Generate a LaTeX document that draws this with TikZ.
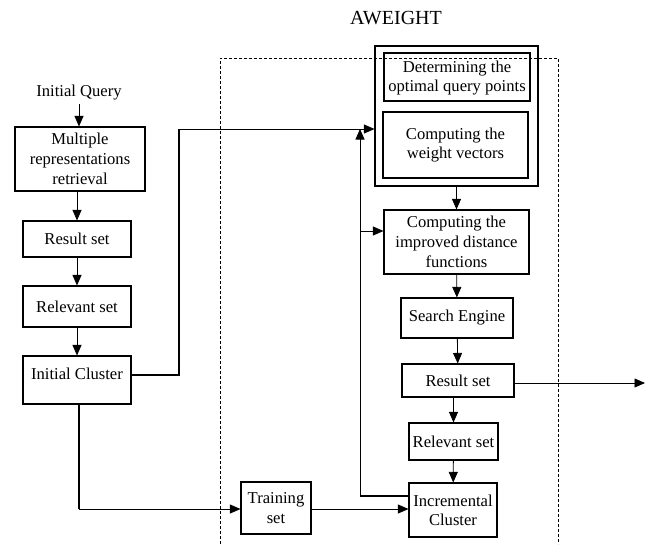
\documentclass[tikz,border=0pt]{standalone}
\usepackage{fontspec}
\setmainfont{Liberation Serif}
\usetikzlibrary{arrows.meta}

\begin{document}
\begin{tikzpicture}[x=1pt,y=-1pt,
    box/.style={draw,line width=1.1pt,align=center,inner sep=0pt,font=\fontsize{16.6}{20}\selectfont},
    arr/.style={-{Triangle[length=10.5pt,width=9pt]},line width=0.8pt}]
    \useasboundingbox (0,0) rectangle (647,544);
    % 虚线框
    \draw[line width=0.6pt,dash pattern=on 3pt off 2pt] (220,544) -- (220,58) -- (558,58) -- (558,544);
    \node[font=\fontsize{20}{24}\selectfont] (title) at (396,18) {AWEIGHT};
    % 左列
    \node[font=\fontsize{16.6}{20}\selectfont] (query) at (79,93) {Initial Query};
    \node[box,minimum width=130pt,minimum height=64pt] (mrr) at (80,159) {Multiple\\representations\\retrieval};
    \node[box,minimum width=108pt,minimum height=36pt] (res1) at (77,239) {Result set};
    \node[box,minimum width=108pt,minimum height=41pt] (rel1) at (77,306.5) {Relevant set};
    \node[box,minimum width=108pt,minimum height=48pt,text depth=12pt] (ic1) at (77,380) {Initial Cluster};
    \node[box,minimum width=70pt,minimum height=52pt] (train) at (276,508) {Training\\set};
    % 右列
    \node[box,minimum width=163pt,minimum height=140pt] (awbox) at (456.5,116) {};
    \node[box,minimum width=146pt,minimum height=48pt,font=\fontsize{16.6}{19}\selectfont] (dq) at (457,77) {\strut Determining the\\optimal query points};
    \node[box,minimum width=145pt,minimum height=66pt,font=\fontsize{16.6}{19}\selectfont] (cw) at (455.5,145) {Computing the\\weight vectors};
    \node[box,minimum width=145pt,minimum height=64pt] (dist) at (456.5,242) {Computing the\\improved distance\\functions};
    \node[box,minimum width=112pt,minimum height=40pt] (se) at (457,318) {Search Engine};
    \node[box,minimum width=112pt,minimum height=33pt] (res2) at (458,380.5) {Result set};
    \node[box,minimum width=89pt,minimum height=37pt] (rel2) at (453.5,441.5) {Relevant set};
    \node[box,minimum width=88pt,minimum height=54pt,font=\fontsize{16.6}{19}\selectfont] (inc) at (453,510) {Incremental\\Cluster};
    % 拐点
    \coordinate (kneeA) at (179,375);
    \coordinate (kneeB) at (179,129);
    \coordinate (kneeC) at (79,509);
    \coordinate (kneeD) at (360,496);
    \coordinate (kneeE) at (360,129);
    \coordinate (kneeF) at (360,231);
    \coordinate (out) at (645,383);
    % 左列箭头
    \draw[arr] (query.south) -- (query.south |- mrr.north);
    \draw[arr] (res1.north |- mrr.south) -- (res1.north);
    \draw[arr] (res1) -- (rel1);
    \draw[arr] (rel1) -- (ic1);
    % 初始聚类到AWEIGHT
    \draw[line width=1.3pt] (ic1.east |- kneeA) -- (kneeA) -- (kneeB);
    \draw[arr] (kneeB) -- (awbox.west |- kneeB);
    % 初始聚类到训练集
    \draw[line width=1.3pt] (ic1.south -| kneeC) -- (kneeC);
    \draw[arr] (kneeC) -- (train.west |- kneeC);
    \draw[arr] (train.east |- kneeC) -- (inc.west |- kneeC);
    % 反馈回路
    \draw[line width=1.1pt] (inc.west |- kneeD) -- (kneeD);
    \draw[arr] (kneeD) -- (kneeE);
    \draw[arr] (kneeF) -- (dist.west |- kneeF);
    % 右列箭头
    \draw[arr] (awbox.south) -- (awbox.south |- dist.north);
    \draw[arr] (dist) -- (se);
    \draw[arr] (se) -- (res2);
    \draw[arr] (rel2.north |- res2.south) -- (rel2.north);
    \draw[arr] (rel2) -- (inc);
    \draw[arr] (res2.east |- out) -- (out);
\end{tikzpicture}
\end{document}
